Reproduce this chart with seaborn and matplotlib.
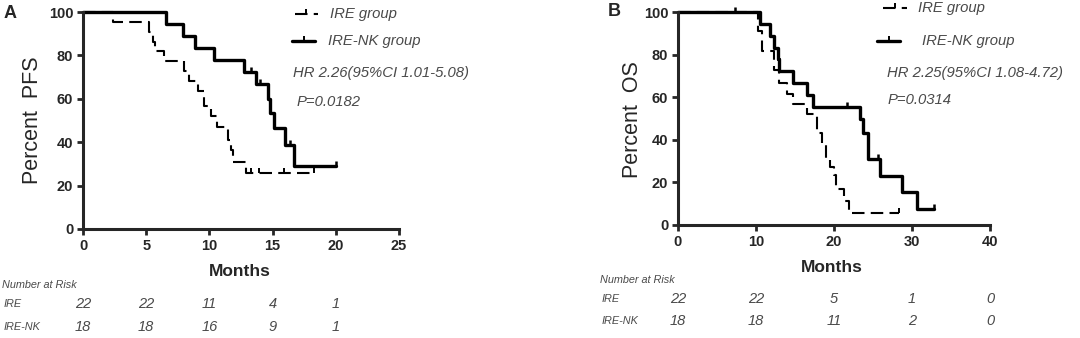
import numpy as np
import pandas as pd
import matplotlib
matplotlib.use("Agg")
import matplotlib.pyplot as plt
import matplotlib.transforms as mtransforms
from matplotlib.path import Path
from matplotlib.lines import Line2D
import seaborn as sns

sns.set_style("ticks")
plt.rcParams["font.family"] = ["Liberation Sans", "DejaVu Sans"]

# ---------------- data ----------------
# Panel A (PFS)
A_ire_t = [0, 2.4, 5.25, 5.5, 5.7, 6.4, 8.0, 8.4, 9.1, 9.6, 10.1, 10.6, 11.5, 11.7, 11.9, 12.9, 18.3]
A_ire_s = [100, 95.5, 90.9, 86.4, 81.8, 77.3, 72.7, 68.2, 63.6, 56.8, 52.3, 46.8, 41.0, 36.4, 30.9, 25.8, 25.8]
A_ire_cens_t = [13.3, 13.9, 15.9, 18.3]
A_ire_cens_s = [25.8, 25.8, 25.8, 25.8]

A_nk_t = [0, 6.6, 7.9, 8.9, 10.4, 12.7, 13.7, 14.6, 14.8, 15.1, 16.0, 16.7, 20.0]
A_nk_s = [100, 94.4, 88.9, 83.3, 77.8, 72.2, 66.7, 60.0, 53.3, 46.7, 38.9, 29.0, 29.0]
A_nk_cens_t = [13.3, 14.0, 16.4, 20.0]
A_nk_cens_s = [72.2, 66.7, 38.9, 29.0]

# Panel B (OS)
B_ire_t = [0, 10.3, 10.8, 12.3, 13.0, 14.0, 14.8, 16.5, 17.8, 18.5, 19.0, 19.5, 20.0, 20.2, 21.3, 21.9, 28.3]
B_ire_s = [100, 90.9, 81.8, 72.7, 66.7, 61.4, 56.8, 52.3, 43.2, 37.6, 31.0, 27.3, 23.5, 17.0, 11.4, 5.5, 5.5]
B_ire_cens_t = [28.3]
B_ire_cens_s = [5.5]

B_nk_t = [0, 10.55, 11.75, 12.3, 12.8, 13.0, 14.8, 16.5, 17.3, 23.3, 23.7, 24.4, 25.9, 28.7, 30.6, 32.8]
B_nk_s = [100, 94.4, 88.9, 83.3, 77.8, 72.2, 66.7, 61.1, 55.6, 50.0, 43.1, 30.8, 23.1, 15.4, 7.7, 7.7]
B_nk_cens_t = [7.35, 21.7, 25.7, 32.8]
B_nk_cens_s = [100, 55.6, 30.8, 7.7]

A_xticks = [0, 5, 10, 15, 20, 25]
B_xticks = [0, 10, 20, 30, 40]
y_ticks = [0, 20, 40, 60, 80, 100]

A_risk_times = [0, 5, 10, 15, 20]
A_risk_ire = ["22", "22", "11", "4", "1"]
A_risk_nk = ["18", "18", "16", "9", "1"]
B_risk_times = [0, 10, 20, 30, 40]
B_risk_ire = ["22", "22", "5", "1", "0"]
B_risk_nk = ["18", "18", "11", "2", "0"]

group_labels = ["IRE group", "IRE-NK group"]
row_labels = ["IRE", "IRE-NK"]
A_stats = ["HR 2.26(95%CI 1.01-5.08)", "P=0.0182"]
B_stats = ["HR 2.25(95%CI 1.08-4.72)", "P=0.0314"]

# ---------------- figure ----------------
W, H = 1080, 338
fig = plt.figure(figsize=(W / 100, H / 100), dpi=100)
fig.patch.set_facecolor("white")

def fx(x):
    return x / W

def fy(y):
    return 1 - y / H

def add_ax(l, t, r, b):
    return fig.add_axes([l / W, 1 - b / H, (r - l) / W, (b - t) / H])

tick_marker = Path([(0, 0), (0, 1)], [Path.MOVETO, Path.LINETO])
DASH = (0, (6, 3))
GRAY = "#4a4a4a"
LW_SOLID = 2.4
LW_DASH = 1.5

def km(ax, t, s, ct, cs, dashed):
    df = pd.DataFrame({"t": t, "s": s})
    lw = LW_DASH if dashed else LW_SOLID
    ls = DASH if dashed else "-"
    sns.lineplot(data=df, x="t", y="s", ax=ax, estimator=None, drawstyle="steps-post",
                 color="black", linewidth=lw, linestyle=ls)
    dc = pd.DataFrame({"t": ct, "s": cs})
    sns.scatterplot(data=dc, x="t", y="s", ax=ax, marker=tick_marker, s=45,
                    color="black", edgecolor="black", linewidth=1.4 if dashed else 1.8)

def style_ax(ax, xmax, xticks):
    ax.set_xlim(0, xmax)
    ax.set_ylim(0, 100)
    ax.set_xticks(xticks)
    ax.set_yticks(y_ticks)
    ax.set_xlabel("")
    ax.set_ylabel("")
    sns.despine(ax=ax)
    for sp in ["left", "bottom"]:
        ax.spines[sp].set_linewidth(2.2)
    ax.tick_params(direction="out", length=4.5, width=2.0, labelsize=10.5, pad=2.5)
    for lab in ax.get_xticklabels() + ax.get_yticklabels():
        lab.set_fontweight("bold")
    for art in ax.lines + ax.collections:
        art.set_clip_on(False)

def legend(xd1, xd2, yd, xt_d, xs1, xs2, ys, xt_s):
    for (x1, x2, y, ls, lw, xt, lab) in [(xd1, xd2, yd, DASH, LW_DASH, xt_d, group_labels[0]),
                                         (xs1, xs2, ys, "-", LW_SOLID, xt_s, group_labels[1])]:
        fig.add_artist(Line2D([fx(x1), fx(x2)], [fy(y), fy(y)], transform=fig.transFigure,
                              color="black", linewidth=lw, linestyle=ls))
        fig.add_artist(Line2D([fx((x1 + x2) / 2)], [fy(y)], transform=fig.transFigure,
                              color="black", linestyle="none", marker=tick_marker,
                              markersize=6.5, markeredgewidth=1.4))
        fig.text(fx(xt), fy(y), lab, ha="left", va="center", fontsize=10.7,
                 style="italic", color=GRAY)

def risk_table(ax, x_title, y_title, x_lab, y_ire, y_nk, times, ire, nk):
    fig.text(fx(x_title), fy(y_title), "Number at Risk", ha="left", va="center",
             fontsize=7.8, style="italic", color=GRAY)
    fig.text(fx(x_lab), fy(y_ire), row_labels[0], ha="left", va="center",
             fontsize=7.8, style="italic", color=GRAY)
    fig.text(fx(x_lab), fy(y_nk), row_labels[1], ha="left", va="center",
             fontsize=7.8, style="italic", color=GRAY)
    tr = mtransforms.blended_transform_factory(ax.transData, fig.transFigure)
    for t, a, b in zip(times, ire, nk):
        ax.text(t, fy(y_ire), a, transform=tr, ha="center", va="center",
                fontsize=10.5, style="italic", color=GRAY, clip_on=False)
        ax.text(t, fy(y_nk), b, transform=tr, ha="center", va="center",
                fontsize=10.5, style="italic", color=GRAY, clip_on=False)

# ---------- Panel A ----------
axA = add_ax(83, 12, 399, 229)
km(axA, A_ire_t, A_ire_s, A_ire_cens_t, A_ire_cens_s, dashed=True)
km(axA, A_nk_t, A_nk_s, A_nk_cens_t, A_nk_cens_s, dashed=False)
style_ax(axA, 25, A_xticks)
fig.text(fx(10), fy(13), "A", ha="center", va="center", fontsize=13, fontweight="bold")
fig.text(fx(33), fy(120), "Percent  PFS", rotation=90, ha="center", va="center", fontsize=15.5)
fig.text(fx(240), fy(271), "Months", ha="center", va="center", fontsize=12.5, fontweight="bold")
legend(295, 318, 14, 330, 292, 315, 41, 328)
fig.text(fx(293), fy(73), A_stats[0], ha="left", va="center", fontsize=10.7, style="italic", color=GRAY)
fig.text(fx(297), fy(102), A_stats[1], ha="left", va="center", fontsize=10.7, style="italic", color=GRAY)
risk_table(axA, 2, 285, 4, 304, 327, A_risk_times, A_risk_ire, A_risk_nk)

# ---------- Panel B ----------
axB = add_ax(678, 12, 990, 225)
km(axB, B_ire_t, B_ire_s, B_ire_cens_t, B_ire_cens_s, dashed=True)
km(axB, B_nk_t, B_nk_s, B_nk_cens_t, B_nk_cens_s, dashed=False)
style_ax(axB, 40, B_xticks)
fig.text(fx(614), fy(12), "B", ha="center", va="center", fontsize=13, fontweight="bold")
fig.text(fx(633), fy(120), "Percent  OS", rotation=90, ha="center", va="center", fontsize=15.5)
fig.text(fx(832), fy(267), "Months", ha="center", va="center", fontsize=12.5, fontweight="bold")
legend(883, 907, 8, 918, 877, 900, 41, 922)
fig.text(fx(887), fy(73), B_stats[0], ha="left", va="center", fontsize=10.7, style="italic", color=GRAY)
fig.text(fx(888), fy(100), B_stats[1], ha="left", va="center", fontsize=10.7, style="italic", color=GRAY)
risk_table(axB, 600, 280, 602, 299, 321, B_risk_times, B_risk_ire, B_risk_nk)

fig.savefig("out.png", dpi=100, facecolor="white")
